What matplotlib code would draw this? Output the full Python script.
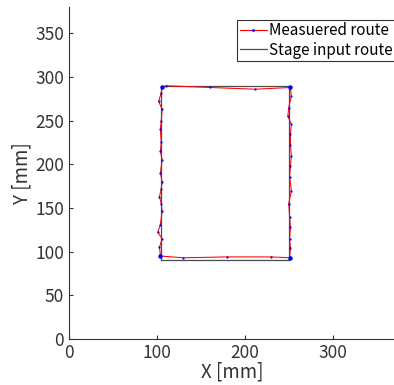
import matplotlib
matplotlib.use('Agg')
import matplotlib.pyplot as plt
from matplotlib.lines import Line2D

plt.rcParams['font.family'] = ['Noto Sans CJK JP', 'DejaVu Sans']

# stage input route (rectangle corners, closed)
stage_x = [105, 250, 250, 105, 105]
stage_y = [90, 90, 290, 290, 90]

meas_x = [104, 104, 103, 106, 101, 104, 106, 105, 103, 105, 106, 104, 106, 104, 105, 104, 105, 106, 102, 105, 106, 106,
          110, 160, 212, 252, 252,
          253, 250, 249, 253, 252, 252, 253, 252, 251, 253, 250, 251, 252, 251, 252, 251, 251,
          230, 180, 130, 104]
meas_y = [95, 96, 105, 115, 122, 131, 146, 155, 163, 172, 180, 190, 205, 215, 225, 240, 250, 263, 272, 282, 289, 288,
          290, 288, 286, 288, 287,
          278, 265, 255, 246, 235, 222, 210, 198, 186, 170, 155, 140, 128, 115, 104, 94, 93,
          94, 94, 93, 95]

# points where the stage paused (clustered samples at the corners)
corner_x = [104, 106, 252, 251]
corner_y = [95, 289, 288, 93]

x_ticks = [0, 100, 200, 300]
y_ticks = [0, 50, 100, 150, 200, 250, 300, 350]

fig = plt.figure(figsize=(3.94, 3.85), dpi=100)
ax = fig.add_axes([0.175, 0.1195, 0.83, 0.862])

ax.plot(meas_x, meas_y, color='red', lw=0.75, marker='.', markersize=1.2,
        markeredgecolor='blue', markerfacecolor='blue', zorder=3)
ax.plot(corner_x, corner_y, ls='none', marker='o', markersize=2.2,
        markeredgecolor='blue', markerfacecolor='blue', zorder=4)
ax.plot(stage_x, stage_y, color='0.3', lw=0.9, zorder=2)

ax.set_xlim(0, 372)
ax.set_ylim(0, 380)
ax.set_xticks(x_ticks)
ax.set_yticks(y_ticks)
ax.tick_params(direction='in', length=3, labelsize=12.5, colors='0.2')
for s in ['top', 'right']:
    ax.spines[s].set_visible(False)
for s in ['left', 'bottom']:
    ax.spines[s].set_color('0.2')
    ax.spines[s].set_linewidth(0.8)

ax.set_xlabel('X [mm]', fontsize=13.5, color='0.2', labelpad=0)
ax.set_ylabel('Y [mm]', fontsize=13.5, color='0.2', labelpad=2)

handles = [
    Line2D([], [], color='red', lw=0.8, marker='.', markersize=2,
           markeredgecolor='blue', markerfacecolor='blue', markevery=[1]),
    Line2D([], [], color='0.3', lw=0.9),
]
leg = ax.legend(handles, ['Measuered route', 'Stage input route'], loc='upper right',
                fontsize=11, fancybox=False, framealpha=1,
                edgecolor='0.2', borderpad=0.15, labelspacing=0.15, handlelength=1.8,
                handletextpad=0.1, borderaxespad=0.0, bbox_to_anchor=(0.996, 0.961))
leg.get_frame().set_linewidth(0.8)

fig.savefig('out.png', dpi=100)
